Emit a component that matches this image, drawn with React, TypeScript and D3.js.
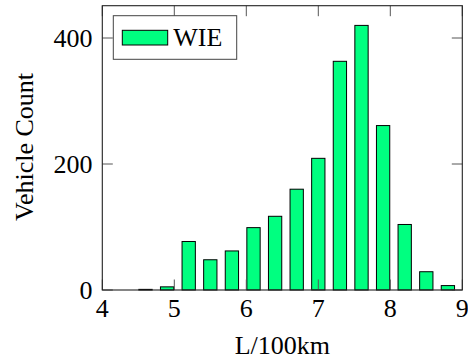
import React from "react";
import * as d3 from "d3";

// Histogram of fuel consumption (bin centres in L/100km) and vehicle counts
const binCenters = [4.6, 4.9, 5.2, 5.5, 5.8, 6.1, 6.4, 6.7, 7.0, 7.3, 7.6, 7.9, 8.2, 8.5, 8.8];
const counts = [1, 5, 77, 48, 62, 99, 117, 160, 209, 363, 420, 261, 104, 29, 7];
const xTicks = [4, 5, 6, 7, 8, 9];
const yTicks = [0, 200, 400];
const seriesName = "WIE";

const W = 468;
const H = 360;
const left = 102.3;
const right = 462.3;
const top = 5.7;
const bottom = 290;
const FONT = "'Liberation Serif', 'Times New Roman', serif";
const FILL = "#00ff80";
const TICK = 10.5;
const BAR_W = 13.3;

export default function App() {
  const x = d3.scaleLinear().domain([4, 9]).range([left, right]);
  const y = d3.scaleLinear().domain([0, 400]).range([bottom, bottom - 252]);

  return (
    <div style={{ position: "absolute", left: 0, top: 0 }}>
      <svg width={W} height={H} style={{ display: "block", background: "#fff" }}>
        {/* bars */}
        {binCenters.map((c, i) => (
          <rect
            key={i}
            x={x(c) - BAR_W / 2}
            y={y(counts[i])}
            width={BAR_W}
            height={y(0) - y(counts[i])}
            fill={FILL}
            stroke="#000"
            strokeWidth={1}
          />
        ))}

        {/* ticks on all four sides, pointing inward */}
        {xTicks.map((t) => (
          <g key={"xt" + t} stroke="#555" strokeWidth={1}>
            <line x1={x(t)} x2={x(t)} y1={bottom} y2={bottom - TICK} />
            <line x1={x(t)} x2={x(t)} y1={top} y2={top + TICK} />
          </g>
        ))}
        {yTicks.map((t) => (
          <g key={"yt" + t} stroke="#555" strokeWidth={1}>
            <line x1={left} x2={left + TICK} y1={y(t)} y2={y(t)} />
            <line x1={right} x2={right - TICK} y1={y(t)} y2={y(t)} />
          </g>
        ))}

        {/* frame */}
        <rect
          x={left}
          y={top}
          width={right - left}
          height={bottom - top}
          fill="none"
          stroke="#222"
          strokeWidth={1.1}
        />

        {/* tick labels */}
        {xTicks.map((t) => (
          <text
            key={"xl" + t}
            x={x(t)}
            y={317}
            textAnchor="middle"
            fontFamily={FONT}
            fontSize={26}
            fill="#000"
          >
            {t}
          </text>
        ))}
        {yTicks.map((t) => (
          <text
            key={"yl" + t}
            x={92.5}
            y={y(t) + 8.5}
            textAnchor="end"
            fontFamily={FONT}
            fontSize={26}
            fill="#000"
          >
            {t}
          </text>
        ))}

        {/* axis titles */}
        <text
          x={(left + right) / 2}
          y={354}
          textAnchor="middle"
          fontFamily={FONT}
          fontSize={26}
          fill="#000"
        >
          L/100km
        </text>
        <text
          transform={`translate(33, 147) rotate(-90)`}
          textAnchor="middle"
          fontFamily={FONT}
          fontSize={26}
          fill="#000"
        >
          Vehicle Count
        </text>

        {/* legend */}
        <rect x={113.3} y={15.7} width={123.4} height={43.6} fill="#fff" stroke="#444" strokeWidth={1} />
        <rect x={122.3} y={30.3} width={45.4} height={14.7} fill={FILL} stroke="#000" strokeWidth={1} />
        <text x={173.3} y={46} fontFamily={FONT} fontSize={26} fill="#000">
          {seriesName}
        </text>
      </svg>
    </div>
  );
}
